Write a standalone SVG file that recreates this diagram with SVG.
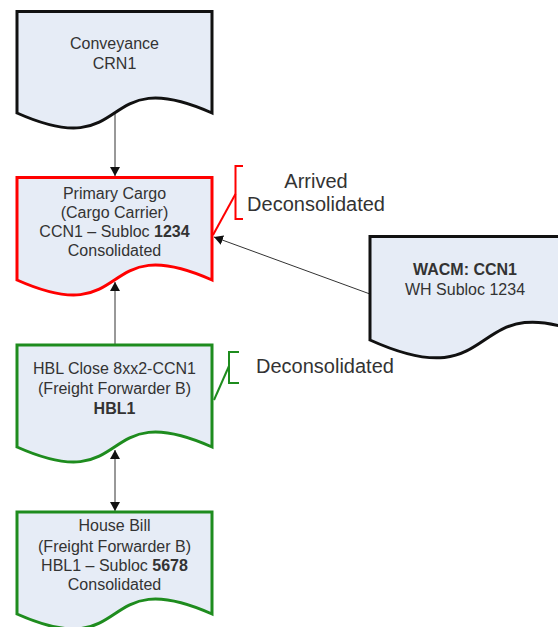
<svg xmlns="http://www.w3.org/2000/svg" width="558" height="627" viewBox="0 0 558 627">
<defs>
<style>
.doc{fill:#e6ecf6;stroke-width:3;stroke-linejoin:miter}
.blk{stroke:#111}
.red{stroke:#ff0000}
.grn{stroke:#1e8c1e}
.t{font-family:"Liberation Sans",Arial,sans-serif;font-size:16px;fill:#333;text-anchor:middle}
.lbl{font-family:"Liberation Sans",Arial,sans-serif;font-size:20px;fill:#333}
.b{font-weight:bold}
.con{stroke:#333;stroke-width:1;fill:none}
.ann{fill:none;stroke-width:2}
</style>
<marker id="ah" viewBox="0 0 9 10" refX="9" refY="5" markerWidth="9" markerHeight="10" markerUnits="userSpaceOnUse" orient="auto-start-reverse">
<path d="M0,0 L9,5 L0,10 z" fill="#111"/>
</marker>
</defs>
<g id="connectors">
<path class="con" d="M115,114 V176" marker-end="url(#ah)"/>
<path class="con" d="M115,345 V282" marker-end="url(#ah)"/>
<path class="con" d="M115,450 V511" marker-start="url(#ah)" marker-end="url(#ah)"/>
<path class="con" d="M370,294 L214,237" marker-end="url(#ah)"/>
</g>
<g id="conveyance">
<path class="doc blk" d="M17,113 V11.5 H212 V113 C95,61 134,165 17,113 Z"/>
<text class="t" x="114.5" y="49">Conveyance</text>
<text class="t" x="114.5" y="69">CRN1</text>
</g>
<g id="primary-cargo">
<path class="doc red" d="M17,280 V177.5 H212 V280 C95,228 134,332 17,280 Z"/>
<text class="t" x="114.5" y="199">Primary Cargo</text>
<text class="t" x="114.5" y="218">(Cargo Carrier)</text>
<text class="t" x="114.5" y="237">CCN1 – Subloc <tspan class="b">1234</tspan></text>
<text class="t" x="114.5" y="256">Consolidated</text>
</g>
<g id="hbl-close">
<path class="doc grn" d="M17,447 V345 H212 V447 C95,395 134,499 17,447 Z"/>
<text class="t" x="114.5" y="374">HBL Close 8xx2-CCN1</text>
<text class="t" x="114.5" y="394">(Freight Forwarder B)</text>
<text class="t b" x="114.5" y="414">HBL1</text>
</g>
<g id="house-bill">
<path class="doc grn" d="M17,614 V512 H212 V614 C95,562 134,666 17,614 Z"/>
<text class="t" x="114.5" y="531">House Bill</text>
<text class="t" x="114.5" y="552">(Freight Forwarder B)</text>
<text class="t" x="114.5" y="571">HBL1 – Subloc <tspan class="b">5678</tspan></text>
<text class="t" x="114.5" y="590">Consolidated</text>
</g>
<g id="wacm">
<path class="doc blk" d="M370,340 V236.5 H599 V340 C461.6,278 507.4,402 370,340 Z"/>
<text class="t b" x="465" y="275">WACM: CCN1</text>
<text class="t" x="465" y="295">WH Subloc 1234</text>
</g>
<g id="note-arrived">
<path class="ann red" d="M243,166 H235.5 V219 H243"/>
<path class="ann red" d="M235.5,194 L213,235"/>
<text class="lbl" x="316" y="188" text-anchor="middle">Arrived</text>
<text class="lbl" x="316" y="211" text-anchor="middle">Deconsolidated</text>
</g>
<g id="note-deconsolidated">
<path class="ann grn" d="M239,352 H229 V383 H239"/>
<path class="ann grn" d="M229,366 L214,400"/>
<text class="lbl" x="256" y="373">Deconsolidated</text>
</g>
</svg>
